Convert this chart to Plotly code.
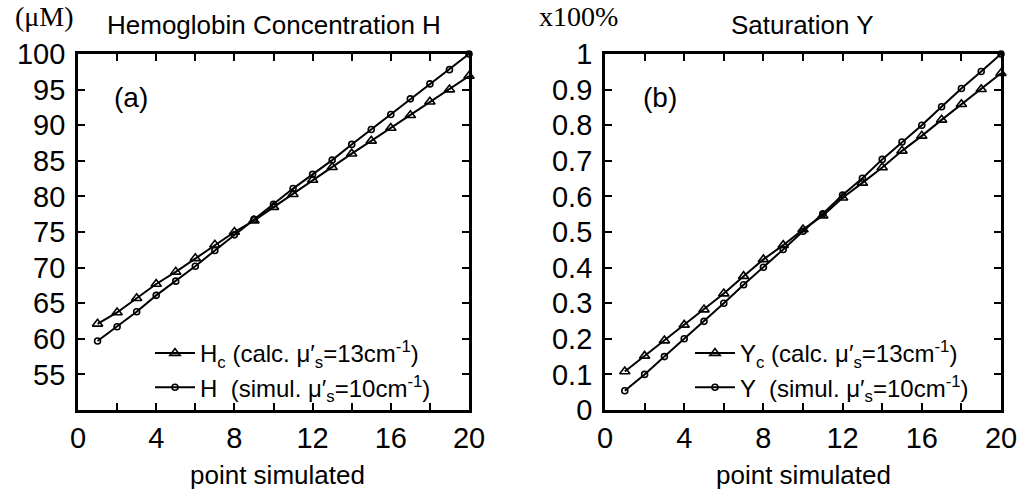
import plotly.graph_objects as go

W, H = 1026, 504

points = list(range(1, 21))

# Panel (a): Hemoglobin concentration (uM)
H_calc = [62.1, 63.7, 65.7, 67.7, 69.4, 71.3, 73.2, 75.0, 76.6, 78.5,
          80.3, 82.3, 84.1, 86.0, 87.8, 89.6, 91.4, 93.3, 95.0, 96.9]
H_sim = [59.7, 61.7, 63.8, 66.1, 68.1, 70.2, 72.4, 74.6, 76.8, 78.9,
         81.1, 83.1, 85.1, 87.3, 89.4, 91.5, 93.7, 95.8, 97.8, 100.0]

# Panel (b): Saturation (x100%)
Y_calc = [0.108, 0.152, 0.195, 0.239, 0.282, 0.327, 0.376, 0.423, 0.463, 0.507,
          0.546, 0.596, 0.638, 0.681, 0.728, 0.770, 0.815, 0.859, 0.901, 0.946]
Y_sim = [0.054, 0.100, 0.150, 0.200, 0.249, 0.300, 0.352, 0.401, 0.451, 0.502,
         0.551, 0.604, 0.651, 0.704, 0.753, 0.800, 0.852, 0.903, 0.951, 1.0]

x_ticks = [0, 4, 8, 12, 16, 20]
ya_ticks = [55, 60, 65, 70, 75, 80, 85, 90, 95, 100]
yb_ticks = [0, 0.1, 0.2, 0.3, 0.4, 0.5, 0.6, 0.7, 0.8, 0.9, 1.0]
yb_text = ["0", "0.1", "0.2", "0.3", "0.4", "0.5", "0.6", "0.7", "0.8", "0.9", "1"]

names_a = ["H<sub>c</sub> (calc. μ′<sub>s</sub>=13cm<sup>-1</sup>)",
           "H  (simul. μ′<sub>s</sub>=10cm<sup>-1</sup>)"]
names_b = ["Y<sub>c</sub> (calc. μ′<sub>s</sub>=13cm<sup>-1</sup>)",
           "Y  (simul. μ′<sub>s</sub>=10cm<sup>-1</sup>)"]

FONT = "Arial, Liberation Sans, sans-serif"
SERIF = "Times New Roman, Liberation Serif, serif"

fig = go.Figure()

tri = dict(symbol="triangle-up-open", size=9, color="black", line=dict(width=1.6, color="black"))
circ = dict(symbol="circle-open", size=6, color="black", line=dict(width=1.6, color="black"))
line = dict(color="black", width=2)

fig.add_trace(go.Scatter(x=points, y=H_calc, mode="lines+markers", marker=tri, line=line,
                         name=names_a[0], xaxis="x", yaxis="y", legend="legend", cliponaxis=False))
fig.add_trace(go.Scatter(x=points, y=H_sim, mode="lines+markers", marker=circ, line=line,
                         name=names_a[1], xaxis="x", yaxis="y", legend="legend", cliponaxis=False))
fig.add_trace(go.Scatter(x=points, y=Y_calc, mode="lines+markers", marker=tri, line=line,
                         name=names_b[0], xaxis="x2", yaxis="y2", legend="legend2", cliponaxis=False))
fig.add_trace(go.Scatter(x=points, y=Y_sim, mode="lines+markers", marker=circ, line=line,
                         name=names_b[1], xaxis="x2", yaxis="y2", legend="legend2", cliponaxis=False))

ydom = [(H - 410) / H, 1 - 54 / H]

common_x = dict(range=[0, 20], tickvals=x_ticks, ticks="inside", ticklen=7, tickwidth=2,
                tickcolor="black", showline=True, linewidth=2.8, linecolor="black",
                mirror="allticks", showgrid=False, zeroline=False, automargin=False,
                tickfont=dict(family=FONT, size=29, color="black"),
                minor=dict(dtick=2, tick0=0, ticks="inside", ticklen=7, tickwidth=2,
                           tickcolor="black", showgrid=False))
common_y = dict(ticks="inside", ticklen=7, tickwidth=2, tickcolor="black",
                showline=True, linewidth=2.8, linecolor="black", mirror="allticks",
                showgrid=False, zeroline=False, ticklabelstandoff=4, automargin=False,
                tickfont=dict(family=FONT, size=29, color="black"))

fig.update_layout(
    template="none",
    width=W, height=H, autosize=False,
    margin=dict(l=0, r=0, t=0, b=0, pad=0),
    paper_bgcolor="white", plot_bgcolor="white",
    font=dict(family=FONT, color="black"),
    xaxis=dict(domain=[78 / W, 469 / W], anchor="y", **common_x),
    yaxis=dict(domain=ydom, anchor="x", range=[50, 100], tickvals=ya_ticks, **common_y),
    xaxis2=dict(domain=[605 / W, 1001 / W], anchor="y2", **common_x),
    yaxis2=dict(domain=ydom, anchor="x2", range=[0, 1], tickvals=yb_ticks, ticktext=yb_text, **common_y),
    legend=dict(x=150 / W, y=1 - 331 / H, xanchor="left", yanchor="top",
                bgcolor="rgba(0,0,0,0)", itemwidth=40, borderwidth=0,
                font=dict(family=FONT, size=24, color="black"), tracegroupgap=0),
    legend2=dict(x=690 / W, y=1 - 331 / H, xanchor="left", yanchor="top",
                 bgcolor="rgba(0,0,0,0)", itemwidth=40, borderwidth=0,
                 font=dict(family=FONT, size=24, color="black"), tracegroupgap=0),
    showlegend=True,
)

def ann(text, px, py, size, family=FONT, xanchor="center"):
    fig.add_annotation(text=text, x=px / W, y=1 - py / H, xref="paper", yref="paper",
                       showarrow=False, xanchor=xanchor, yanchor="middle",
                       font=dict(family=family, size=size, color="black"))

ann("(μM)", 44, 16, 28, SERIF)
ann("Hemoglobin Concentration H", 274, 25, 26)
ann("x100%", 578, 16, 28, SERIF)
ann("Saturation Y", 802, 25, 26)
ann("(a)", 131, 98, 28)
ann("(b)", 660, 98, 28)
ann("point simulated", 277, 475, 26)
ann("point simulated", 803, 475, 26)

fig.write_html("out.html")
